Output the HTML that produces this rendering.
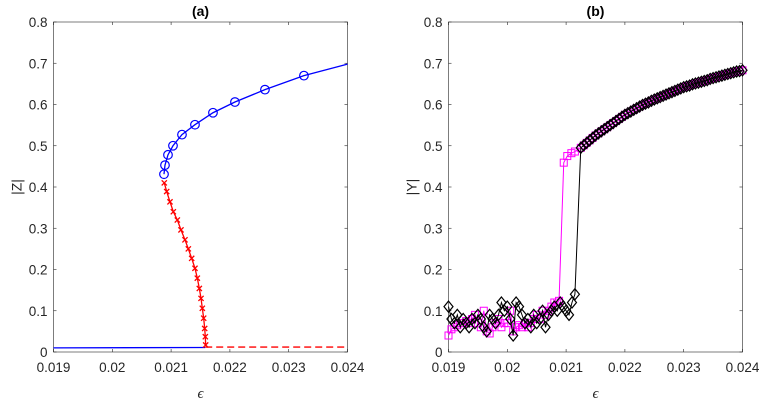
<!DOCTYPE html>
<html><head><meta charset="utf-8"><style>
body{margin:0;background:#fff;}
svg{display:block;font-family:"Liberation Sans",sans-serif;}
</style></head><body>
<svg id="fig" width="763" height="405" viewBox="0 0 763 405"></svg>
<script>
// ---- data ----
const zUpperEps=[0.020879,0.020896,0.020947,0.021032,0.021185,0.021406,0.021712,0.022086,0.022596,0.023259,0.024];
const zUpperVal=[0.431,0.453,0.478,0.500,0.527,0.551,0.580,0.606,0.636,0.670,0.698];
const zMidEps=[0.020884,0.020925,0.020981,0.021038,0.021106,0.021168,0.021236,0.021293,0.021350,0.021406,0.021446,0.021480,0.021509,0.021531,0.021554,0.021571,0.021582,0.021588];
const zMidVal=[0.410,0.389,0.364,0.340,0.320,0.296,0.272,0.250,0.227,0.203,0.179,0.154,0.130,0.106,0.082,0.057,0.037,0.017];
const zLowEps=[0.019,0.02158];
const zLowVal=[0.010,0.011];
const zDashEps=[0.02158,0.024];
const zDashVal=[0.012,0.012];
const epsLow=[0.01900,0.01905,0.01910,0.01915,0.01920,0.01925,0.01930,0.01935,0.01940,0.01945,0.01950,0.01955,0.01960,0.01965,0.01970,0.01975,0.01980,0.01985,0.01990,0.01995,0.02000,0.02005,0.02010,0.02015,0.02020,0.02025,0.02030,0.02035,0.02040,0.02045,0.02050,0.02055,0.02060,0.02065,0.02070,0.02075,0.02080,0.02085,0.02090,0.02095,0.02100,0.02105,0.02110,0.02115];
const blackLow=[0.11,0.08,0.07,0.09,0.06,0.08,0.07,0.06,0.08,0.07,0.09,0.08,0.06,0.05,0.09,0.08,0.07,0.09,0.12,0.10,0.11,0.08,0.04,0.12,0.11,0.09,0.07,0.08,0.06,0.09,0.07,0.08,0.10,0.06,0.09,0.10,0.11,0.10,0.12,0.11,0.10,0.09,0.12,0.14];
const magentaLow=[0.04,0.055,0.06,0.065,0.07,0.07,0.075,0.07,0.08,0.09,0.07,0.06,0.10,0.05,0.045,0.06,0.07,0.08,0.06,0.07,0.07,0.10,0.05,0.06,0.065,0.06,0.07,0.06,0.07,0.08,0.09,0.08,0.10,0.09,0.10,0.11,0.12,0.12];
const magentaJumpEps=[0.02088,0.02096,0.02102,0.02109,0.02115];
const magentaJumpVal=[0.124,0.459,0.475,0.482,0.486];
const epsUpper=[0.02125,0.0213,0.02135,0.0214,0.02145,0.0215,0.02155,0.0216,0.02165,0.0217,0.02175,0.0218,0.02185,0.0219,0.02195,0.022,0.02205,0.0221,0.02215,0.0222,0.02225,0.0223,0.02235,0.0224,0.02245,0.0225,0.02255,0.0226,0.02265,0.0227,0.02275,0.0228,0.02285,0.0229,0.02295,0.023,0.02305,0.0231,0.02315,0.0232,0.02325,0.0233,0.02335,0.0234,0.02345,0.0235,0.02355,0.0236,0.02365,0.0237,0.02375,0.0238,0.02385,0.0239,0.02395,0.024];
const upperVal=[0.495,0.501,0.507,0.513,0.519,0.525,0.530,0.535,0.540,0.545,0.550,0.555,0.560,0.565,0.570,0.575,0.579,0.583,0.587,0.591,0.595,0.599,0.602,0.605,0.609,0.612,0.615,0.618,0.621,0.624,0.627,0.630,0.633,0.636,0.639,0.642,0.644,0.646,0.649,0.651,0.653,0.655,0.657,0.659,0.662,0.664,0.666,0.668,0.670,0.672,0.674,0.676,0.678,0.680,0.681,0.683];
const xTicks=[0.019,0.02,0.021,0.022,0.023,0.024];
const xTickLabels=["0.019","0.02","0.021","0.022","0.023","0.024"];
const yTicks=[0,0.1,0.2,0.3,0.4,0.5,0.6,0.7,0.8];
const yTickLabels=["0","0.1","0.2","0.3","0.4","0.5","0.6","0.7","0.8"];

const NS="http://www.w3.org/2000/svg";
const svg=document.getElementById('fig');
function mk(tag,attrs,parent){const e=document.createElementNS(NS,tag);for(const k in attrs)e.setAttribute(k,attrs[k]);(parent||svg).appendChild(e);return e;}

function axes(L,name,title,ylab){
  const R=L+294,T=22,B=352;
  const sx=v=>L+(v-0.019)/0.005*(R-L);
  const sy=v=>B-v/0.8*(B-T);
  const g=mk('g',{});
  
  
  const box=mk('rect',{x:L,y:T,width:R-L,height:B-T,fill:'#fff',stroke:'#262626','stroke-width':0.6},g);
  
  
  xTicks.forEach((v,i)=>{
    const x=sx(v);
    mk('line',{x1:x,y1:B,x2:x,y2:B-3,stroke:'#262626','stroke-width':0.6},g);
    mk('line',{x1:x,y1:T,x2:x,y2:T+3,stroke:'#262626','stroke-width':0.6},g);
    const t=mk('text',{x:x,y:B+20,'text-anchor':'middle','font-size':13.5,fill:'#262626'},g);
    t.textContent=xTickLabels[i];
    
    
  });
  yTicks.forEach((v,i)=>{
    const y=sy(v);
    mk('line',{x1:L,y1:y,x2:L+3,y2:y,stroke:'#262626','stroke-width':0.6},g);
    mk('line',{x1:R,y1:y,x2:R-3,y2:y,stroke:'#262626','stroke-width':0.6},g);
    const t=mk('text',{x:L-6,y:y+5,'text-anchor':'end','font-size':13.5,fill:'#262626'},g);
    t.textContent=yTickLabels[i];
    
    
  });
  const tt=mk('text',{x:(L+R)/2,y:16,'text-anchor':'middle','font-size':14,'font-weight':'bold',fill:'#000'},g);
  tt.textContent=title;
  
  
  const xl=mk('text',{x:(L+R)/2,y:398,'text-anchor':'middle','font-size':15,'font-style':'italic',fill:'#262626','font-family':'Liberation Serif, serif'},g);
  xl.textContent='ϵ';
  
  
  const yl=mk('text',{x:0,y:0,'text-anchor':'middle','font-size':14,fill:'#262626',transform:`translate(${L-32},${(T+B)/2}) rotate(-90)`},g);
  yl.textContent=ylab;
  
  
  return {sx,sy,g};
}
function line(ax,xs,ys,color,name,extra){
  const p=mk('polyline',Object.assign({points:xs.map((x,i)=>ax.sx(x)+','+ax.sy(ys[i])).join(' '),fill:'none',stroke:color,'stroke-width':1.3},extra||{}),ax.g);
  
  
}
function markers(ax,xs,ys,type,color,name){
  xs.forEach((x,i)=>{
    const cx=ax.sx(x),cy=ax.sy(ys[i]);let e;
    if(type==='o')e=mk('circle',{cx,cy,r:4.3,fill:'none',stroke:color,'stroke-width':1.2},ax.g);
    else if(type==='x')e=mk('path',{d:`M${cx-2.6},${cy-2.6}L${cx+2.6},${cy+2.6}M${cx-2.6},${cy+2.6}L${cx+2.6},${cy-2.6}`,stroke:color,'stroke-width':1.3},ax.g);
    else if(type==='s')e=mk('rect',{x:cx-3.5,y:cy-3.5,width:7,height:7,fill:'none',stroke:color,'stroke-width':1},ax.g);
    else e=mk('path',{d:`M${cx},${cy-5.5}L${cx+4.5},${cy}L${cx},${cy+5.5}L${cx-4.5},${cy}Z`,fill:'none',stroke:color,'stroke-width':1.2},ax.g);
    
    
  });
}
// panel a
const A=axes(53.5,'panel-a','(a)','|Z|');
line(A,zLowEps,zLowVal,'#0000ff','stable-low-branch');
line(A,zDashEps,zDashVal,'#ff0000','unstable-low-branch',{'stroke-dasharray':'7,4'});
line(A,zMidEps,zMidVal,'#ff0000','unstable-middle-branch');
markers(A,zMidEps,zMidVal,'x','#ff0000','unstable-point');
line(A,zUpperEps,zUpperVal,'#0000ff','stable-upper-branch');
markers(A,zUpperEps.slice(0,-1),zUpperVal.slice(0,-1),'o','#0000ff','stable-point');
// panel b
const B=axes(448.5,'panel-b','(b)','|Y|');
const mEps=epsLow.slice(0,magentaLow.length).concat(magentaJumpEps,epsUpper);
const mVal=magentaLow.concat(magentaJumpVal,upperVal);
const kEps=epsLow.concat(epsUpper);
const kVal=blackLow.concat(upperVal);
line(B,mEps,mVal,'#ff00ff','forward-sweep-line',{'stroke-width':1});
markers(B,mEps,mVal,'s','#ff00ff','forward-sweep-point');
line(B,kEps,kVal,'#000000','backward-sweep-line',{'stroke-width':1});
markers(B,kEps,kVal,'d','#000000','backward-sweep-point');
</script>
</body></html>
